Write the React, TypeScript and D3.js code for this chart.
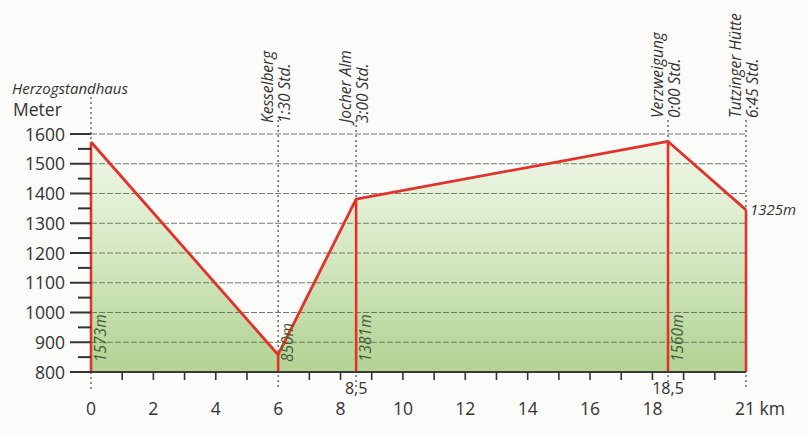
import React from "react";
import * as d3 from "d3";

const waypointKm = [0, 6, 8.5, 18.5, 21];
const elevation = [1573, 858, 1381, 1575, 1345];
const elevLabels = ["1573m", "850m", "1381m", "1560m", "1325m"];
const placeNames = ["Herzogstandhaus", "Kesselberg", "Jocher Alm", "Verzweigung", "Tutzinger Hütte"];
const walkTimes = ["", "1:30 Std.", "3:00 Std.", "0:00 Std.", "6:45 Std."];
const yTicks = [800, 900, 1000, 1100, 1200, 1300, 1400, 1500, 1600];
const yMinorTicks = [850, 950, 1050, 1150, 1250, 1350, 1450, 1550];
const xTicks = [0, 2, 4, 6, 8, 10, 12, 14, 16, 18, 21];
const xTickLabels = ["0", "2", "4", "6", "8", "10", "12", "14", "16", "18", "21 km"];
const xMinorTicks = [1, 2, 3, 4, 5, 7, 8, 9, 10, 11, 12, 13, 14, 15, 16, 17, 18, 19, 20];
const extraXKm = [8.5, 18.5];
const extraXLabels = ["8,5", "18,5"];

const W = 807, H = 434;
const FONT = "'Open Sans', 'DejaVu Sans', sans-serif";

export default function App() {
  const x = d3.scaleLinear().domain([0, 21]).range([91, 746]);
  const y = d3.scaleLinear().domain([800, 1600]).range([372, 134]);
  const pts: [number, number][] = waypointKm.map((k, i) => [k, elevation[i]]);
  const area = d3.area<[number, number]>().x(d => x(d[0])).y0(y(800)).y1(d => y(d[1]))(pts) || "";
  const line = d3.line<[number, number]>().x(d => x(d[0])).y(d => y(d[1]))(pts) || "";
  const red = "#e2322b";

  return (
    <svg width={W} height={H} style={{ position: "absolute", left: 0, top: 0, background: "#fbfbf9" }}>
      <defs>
        <linearGradient id="g" gradientUnits="userSpaceOnUse" x1="0" y1={y(1600)} x2="0" y2={y(800)}>
          <stop offset="0" stopColor="#f3f8ec" />
          <stop offset="0.45" stopColor="#d8eac6" />
          <stop offset="1" stopColor="#b2d393" />
        </linearGradient>
      </defs>
      <rect width={W} height={H} fill="#fbfbf9" />
      <path d={area} fill="url(#g)" />
      {/* horizontal grid */}
      {yTicks.filter(t => t > 800).map(t => (
        <line key={t} x1={x(0)} x2={x(21)} y1={y(t)} y2={y(t)} stroke={t === 1600 ? "#6a6a6a" : "#66705e"} strokeWidth={1} strokeDasharray="6,2" opacity={0.9} />
      ))}
      {/* vertical dotted waypoint lines */}
      {waypointKm.map((k, i) => (
        <line key={"v" + i} x1={x(k)} x2={x(k)} y1={i === 0 ? 97 : 120} y2={k === 21 ? 388 : 390} stroke="#555" strokeWidth={1.3} strokeDasharray="2,3" />
      ))}
      {/* red verticals */}
      {waypointKm.map((k, i) => (
        <line key={"r" + i} x1={x(k)} x2={x(k)} y1={y(elevation[i])} y2={y(800)} stroke={red} strokeWidth={2.6} />
      ))}
      <path d={line} fill="none" stroke={red} strokeWidth={2.8} strokeLinejoin="round" />
      {/* axes */}
      <line x1={70} x2={x(21)} y1={y(800)} y2={y(800)} stroke="#3a3a3a" strokeWidth={2} />
      {yTicks.map(t => (
        <line key={"yt" + t} x1={70} x2={x(0)} y1={y(t)} y2={y(t)} stroke="#333" strokeWidth={2} />
      ))}
      {yMinorTicks.map(t => (
        <line key={"ym" + t} x1={78} x2={x(0)} y1={y(t)} y2={y(t)} stroke="#333" strokeWidth={2} />
      ))}
      {xMinorTicks.map(t => (
        <line key={"xm" + t} x1={x(t)} x2={x(t)} y1={y(800)} y2={y(800) + 8} stroke="#333" strokeWidth={1.6} />
      ))}
      {yTicks.map(t => (
        <text key={"yl" + t} x={65} y={y(t) + 6.5} textAnchor="end" fontFamily={FONT} fontSize={17.5} fill="#333">{t}</text>
      ))}
      {xTicks.map((t, i) => (
        <text key={"xl" + t} x={x(t)} y={415} textAnchor={i === xTicks.length - 1 ? "start" : "middle"} dx={i === xTicks.length - 1 ? -11 : 0} fontFamily={FONT} fontSize={17.5} fill="#333">{xTickLabels[i]}</text>
      ))}
      {extraXKm.map((k, i) => (
        <text key={"xe" + i} x={x(k)} y={394} textAnchor="middle" fontFamily={FONT} fontSize={16} fill="#333">{extraXLabels[i]}</text>
      ))}
      <text x={12} y={94} fontFamily={FONT} fontStyle="italic" fontSize={15} fill="#333">{placeNames[0]}</text>
      <text x={13} y={116} fontFamily={FONT} fontSize={17.5} fill="#333">Meter</text>
      {/* rotated place labels */}
      {waypointKm.map((k, i) => i === 0 ? null : (
        <g key={"pl" + i} transform={`translate(${x(k)},${i <= 2 ? 123 : 118}) rotate(-90)`}>
          <text x={0} y={-5} fontFamily={FONT} fontStyle="italic" fontSize={15.5} fill="#333">{placeNames[i]}</text>
          <text x={0} y={12} fontFamily={FONT} fontStyle="italic" fontSize={15.5} fill="#333">{walkTimes[i]}</text>
        </g>
      ))}
      {/* elevation labels */}
      {waypointKm.map((k, i) => i === 4 ? null : (
        <text key={"el" + i} transform={`translate(${x(k) + 15},362) rotate(-90)`} fontFamily={FONT} fontStyle="italic" fontSize={15.5} fill="#3f5a34">{elevLabels[i]}</text>
      ))}
      <text x={x(21) + 4} y={y(elevation[4]) + 5} fontFamily={FONT} fontStyle="italic" fontSize={15} fill="#333">{elevLabels[4]}</text>
    </svg>
  );
}
